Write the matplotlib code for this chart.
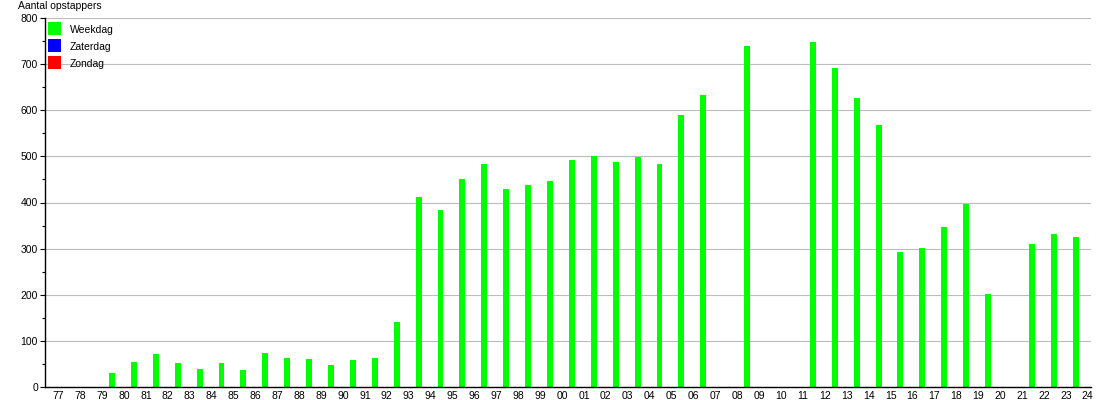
import matplotlib
matplotlib.use("Agg")
import matplotlib.pyplot as plt
from matplotlib.patches import Rectangle
from matplotlib.ticker import MultipleLocator

plt.rcParams['font.family'] = ['Liberation Sans', 'DejaVu Sans']

years = ['77', '78', '79', '80', '81', '82', '83', '84', '85', '86', '87', '88',
         '89', '90', '91', '92', '93', '94', '95', '96', '97', '98', '99', '00',
         '01', '02', '03', '04', '05', '06', '07', '08', '09', '10', '11', '12',
         '13', '14', '15', '16', '17', '18', '19', '20', '21', '22', '23', '24']
weekdag = [0, 0, 31, 55, 71, 53, 40, 53, 37, 73, 62, 61,
           47, 58, 62, 140, 411, 383, 452, 483, 430, 438, 446, 493,
           500, 487, 499, 483, 590, 633, 0, 740, 0, 0, 748, 692,
           627, 568, 293, 301, 347, 396, 201, 0, 309, 331, 326, 0]
zaterdag = [0] * len(years)
zondag = [0] * len(years)

series_names = ['Weekdag', 'Zaterdag', 'Zondag']
series_colors = ['#00ff00', '#0000ff', '#ff0000']

W, H = 1110, 400
fig = plt.figure(figsize=(W / 100, H / 100), dpi=100)
ax = fig.add_axes([45 / W, 13 / H, 1046 / W, 369 / H])

x = list(range(len(years)))
bar_x = [i + 0.45 for i in x]
for vals, col in zip([weekdag, zaterdag, zondag], series_colors):
    ax.bar(bar_x, vals, width=0.27, color=col, linewidth=0, zorder=3)

FS = 7.5
ax.set_xlim(-0.607, 47.15)
ax.set_ylim(0, 800)
ax.set_xticks(x)
ax.set_xticklabels(years, fontsize=FS)
ax.yaxis.set_major_locator(MultipleLocator(100))
ax.yaxis.set_minor_locator(MultipleLocator(50))
ax.tick_params(axis='x', length=0, pad=3.2)
ax.tick_params(axis='y', which='major', length=3.5, width=0.8, pad=1.5, labelsize=FS)
ax.tick_params(axis='y', which='minor', length=2, width=0.8)
ax.grid(axis='y', which='major', color='#bcbcbc', linewidth=0.8, zorder=0)
ax.set_axisbelow(True)
for s in ['top', 'right']:
    ax.spines[s].set_visible(False)
for s in ['left', 'bottom']:
    ax.spines[s].set_linewidth(1.0)
    ax.spines[s].set_zorder(4)

fig.text(18 / W, 1 - 6 / H, 'Aantal opstappers', fontsize=FS, ha='left', va='center')

# legend (no frame): coloured squares with labels
for k, (name, col) in enumerate(zip(series_names, series_colors)):
    top = 21.7 + k * 17.2
    fig.add_artist(Rectangle((48 / W, 1 - (top + 13) / H), 13 / W, 13 / H,
                             transform=fig.transFigure, facecolor=col, edgecolor='none'))
    fig.text(70 / W, 1 - (top + 8) / H, name, fontsize=FS, ha='left', va='center')

fig.savefig('out.png', dpi=100)
